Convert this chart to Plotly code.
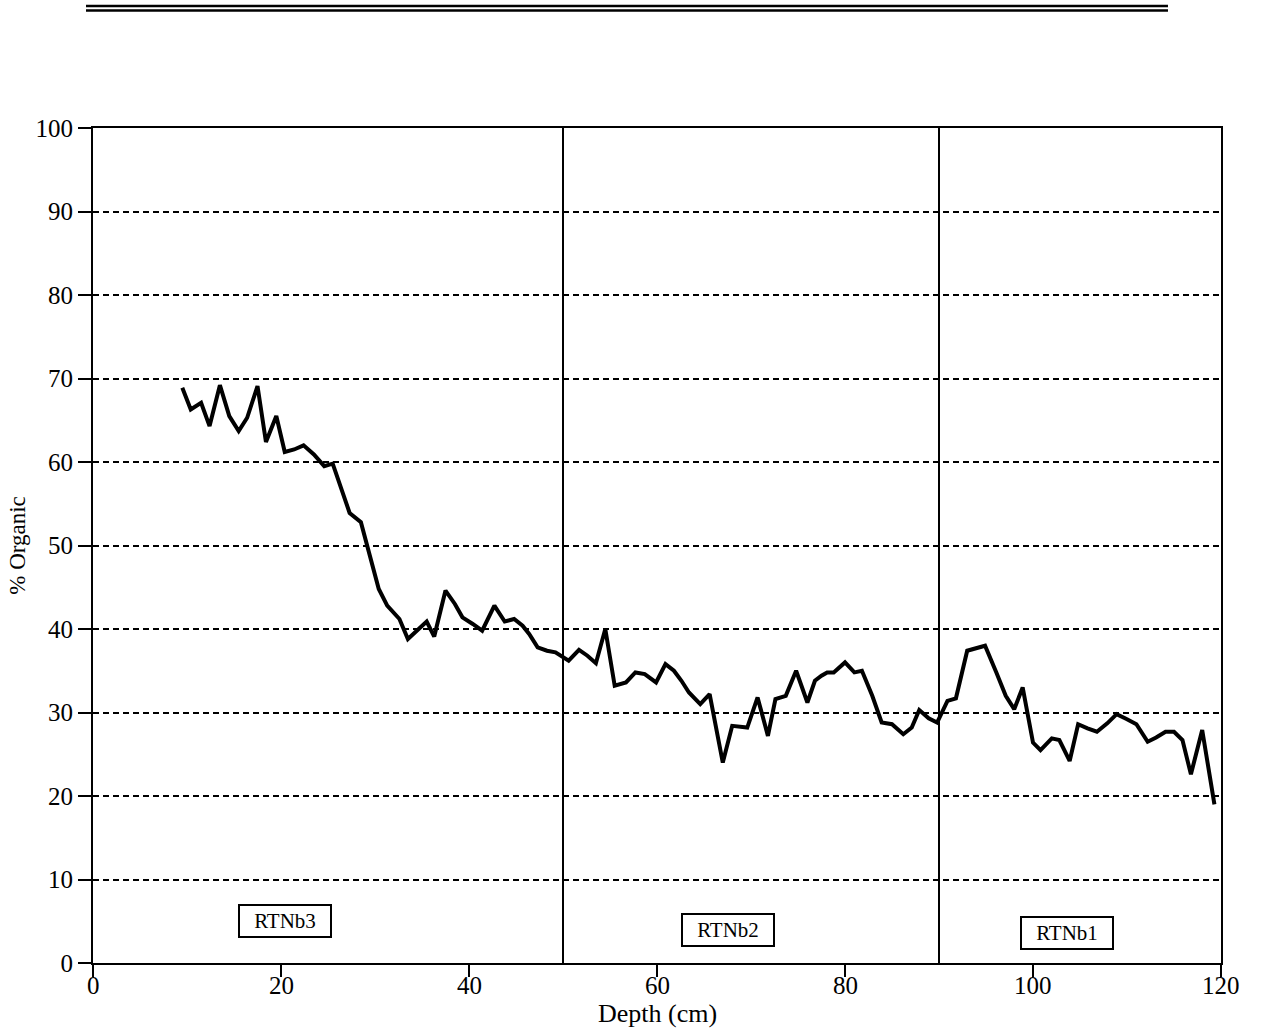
import plotly.graph_objects as go

# ---- data ----
depth_cm = [9.5, 10.4, 11.5, 12.4, 13.5, 14.5, 15.5, 16.4, 17.5, 18.4, 19.5, 20.4, 21.4, 22.4,
            23.5, 24.6, 25.5, 26.4, 27.3, 28.5, 29.4, 30.4, 31.3, 32.6, 33.5, 34.5, 35.5, 36.3,
            37.5, 38.5, 39.3, 40.4, 41.4, 42.7, 43.8, 44.8, 45.7, 46.4, 47.3, 48.3, 49.2, 50.6,
            51.7, 52.6, 53.5, 54.5, 55.5, 56.7, 57.7, 58.7, 59.9, 60.9, 61.8, 62.6, 63.4, 64.6,
            65.6, 67.0, 68.0, 69.6, 70.7, 71.8, 72.6, 73.7, 74.8, 76.0, 76.8, 77.5, 78.1, 78.8,
            80.0, 81.0, 81.8, 82.9, 83.9, 85.0, 86.2, 87.1, 87.9, 88.9, 89.8, 90.9, 91.8, 93.0,
            94.0, 94.9, 96.1, 97.1, 98.0, 98.9, 100.0, 100.8, 102.0, 102.8, 103.9, 104.8, 105.8,
            106.8, 107.9, 108.9, 110.0, 111.0, 112.2, 113.1, 114.1, 115.0, 115.9, 116.8, 118.0,
            119.3]
organic_pct = [68.9, 66.3, 67.1, 64.3, 69.2, 65.5, 63.7, 65.3, 69.1, 62.4, 65.5, 61.2, 61.5, 62.0,
               60.9, 59.5, 59.8, 57.0, 53.9, 52.8, 49.2, 44.8, 42.8, 41.2, 38.8, 39.8, 40.9, 39.1,
               44.6, 43.0, 41.4, 40.6, 39.8, 42.8, 40.9, 41.2, 40.4, 39.4, 37.8, 37.4, 37.2, 36.2,
               37.5, 36.8, 35.9, 40.0, 33.2, 33.6, 34.8, 34.6, 33.6, 35.8, 35.0, 33.8, 32.4, 31.0,
               32.2, 24.0, 28.4, 28.2, 31.8, 27.2, 31.6, 32.0, 35.0, 31.2, 33.8, 34.4, 34.8, 34.8,
               36.0, 34.8, 35.0, 32.0, 28.8, 28.6, 27.4, 28.2, 30.3, 29.3, 28.8, 31.4, 31.7, 37.4,
               37.7, 38.0, 34.8, 32.0, 30.4, 33.0, 26.4, 25.5, 26.9, 26.7, 24.2, 28.6, 28.1,
               27.7, 28.7, 29.8, 29.2, 28.6, 26.5, 27.0, 27.7, 27.7, 26.7, 22.6, 27.9,
               19.0]

unit_boundaries = [50, 90]
unit_labels = ["RTNb3", "RTNb2", "RTNb1"]
unit_label_x = [20.4, 67.6, 103.6]
unit_label_y = [5.0, 4.0, 3.6]

x_ticks = [0, 20, 40, 60, 80, 100, 120]
y_ticks = [0, 10, 20, 30, 40, 50, 60, 70, 80, 90, 100]

x_title = "Depth (cm)"
y_title = "% Organic"

FONT = "Liberation Serif, Times New Roman, serif"

fig = go.Figure()
fig.add_trace(go.Scatter(x=depth_cm, y=organic_pct, mode="lines",
                         line=dict(color="black", width=4), showlegend=False,
                         hoverinfo="skip"))

shapes = []
for b in unit_boundaries:
    shapes.append(dict(type="line", xref="x", yref="paper", x0=b, x1=b, y0=0, y1=1,
                       line=dict(color="black", width=2)))
# double rule at top of page
for yy in [1.1461, 1.1407]:
    shapes.append(dict(type="line", xref="paper", yref="paper", x0=-0.0062, x1=0.953,
                       y0=yy, y1=yy, line=dict(color="black", width=2.5)))

annotations = []
for lab, lx, ly in zip(unit_labels, unit_label_x, unit_label_y):
    annotations.append(dict(x=lx, y=ly, xref="x", yref="y", text=lab, showarrow=False,
                            font=dict(family=FONT, size=21, color="black"),
                            bordercolor="black", borderwidth=2, borderpad=3,
                            bgcolor="white", width=84, height=24))
# x tick labels, set close under the tick marks as in the reference
for t in x_ticks:
    annotations.append(dict(x=t, y=-0.0085, xref="x", yref="paper", text=str(t),
                            showarrow=False, xanchor="center", yanchor="top",
                            font=dict(family=FONT, size=25, color="black")))
# x-axis title placed below the tick labels
annotations.append(dict(x=0.5, y=-0.0405, xref="paper", yref="paper", text=x_title,
                        showarrow=False, xanchor="center", yanchor="top",
                        font=dict(family=FONT, size=26, color="black")))

fig.update_layout(
    width=1265, height=1035,
    margin=dict(l=93, r=44, t=128, b=72),
    paper_bgcolor="white", plot_bgcolor="white",
    shapes=shapes, annotations=annotations,
    font=dict(family=FONT, color="black"),
    xaxis=dict(range=[0, 120], tickmode="array", tickvals=x_ticks, automargin=False,
               ticks="outside", ticklen=12, tickwidth=2, tickcolor="black",
               showticklabels=False,
               showline=True, linewidth=2, linecolor="black", mirror=True,
               showgrid=False, zeroline=False),
    yaxis=dict(range=[0, 100], tickmode="array", tickvals=y_ticks, automargin=False,
               ticks="outside", ticklen=13, tickwidth=2, tickcolor="black",
               showline=True, linewidth=2, linecolor="black", mirror=True,
               showgrid=True, gridcolor="black", gridwidth=2, griddash="6px,4px",
               zeroline=False,
               tickfont=dict(family=FONT, size=25, color="black"),
               title=dict(text=y_title, font=dict(family=FONT, size=23, color="black"),
                          standoff=3)),
)

fig.write_html("out.html", config={"displayModeBar": False},
               post_script="document.body.style.margin='0';document.body.style.overflow='hidden';")
